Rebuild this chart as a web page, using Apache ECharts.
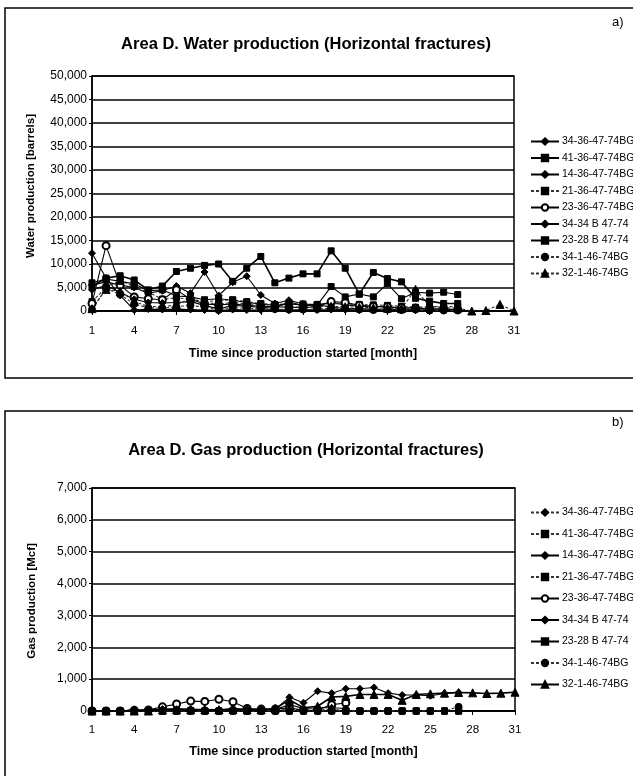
<!DOCTYPE html>
<html>
<head>
<meta charset="utf-8">
<script src="https://cdn.jsdelivr.net/npm/echarts@6/dist/echarts.min.js"></script>
<style>
  html, body { margin: 0; padding: 0; background: #fff; }
  #water { position: absolute; left: 0; top: 0; width: 633px; height: 390px; }
  #gas { position: absolute; left: 0; top: 390px; width: 633px; height: 386px; }
</style>
</head>
<body>
<div id="water"></div>
<div id="gas"></div>
<script>
// Month categories and axis ranges
const months = ['1','2','3','4','5','6','7','8','9','10','11','12','13','14','15','16',
  '17','18','19','20','21','22','23','24','25','26','27','28','29','30','31'];
const wellNames = ['34-36-47-74BG','41-36-47-74BG','14-36-47-74BG','21-36-47-74BG',
  '23-36-47-74BG','34-34 B 47-74','23-28 B 47-74','34-1-46-74BG','32-1-46-74BG'];
const waterTicks = [0, 50000, 5000];   // min, max, step
const gasTicks = [0, 7000, 1000];

// Monthly water production [barrels]
const water_34_36 = [12300,7000,3300,200,400,300,400,300,200,100,300,200,200,300,200,300,200,300,300,200,200,300,200,200,100,100,100];
const water_41_36 = [5200,7000,7500,6600,4500,5300,8400,9100,9700,10000,6300,9100,11600,6000,7000,7900,7900,12800,9100,3600,8200,6900,6200,2700,2100,1600,1600];
const water_14_36 = [5500,6200,5500,5000,3800,4300,5300,3800,8300,3300,6100,7400,3400,1600,2300,1500,1300,1800,1300,1000,900,900,500,800,300,200,200];
const water_21_36 = [2000,5000,6500,5200,4000,2500,2800,2500,2000,2200,2400,2000,1600,1400,1500,1500,1400,1600,1500,1400,1300,1200,1000,800,900,1000,900];
const water_23_36 = [1600,13900,5500,3000,2600,2400,4500,2500,1500,1300,1500,1200,1000,900,800,700,900,2000,1800,1200,1000,900,700,600,500,400,300];
const water_34_34B = [4500,5500,4000,2500,1800,1700,1800,2000,1200,400,1200,1000,800,600,2000,1000,1400,800,600,500,400,300,300,200,200,100,100];
const water_23_28B = [6000,6800,6300,5800,4300,4500,3200,3000,2400,2600,2300,1800,1500,1200,1500,1300,1200,5200,3000,3600,3000,5800,2600,4000,3800,4000,3500];
const water_34_1 = [300,4800,3500,1500,700,600,900,1200,800,200,700,600,500,400,300,300,400,600,500,300,200,300,200,300,100,100,100];
const water_32_1 = [500,4600,4200,2000,1000,900,1300,2700,1800,1500,1800,1500,1400,1200,1000,800,1000,1000,900,800,700,600,500,4600,1000,700,600,0,100,1400,0];

// Monthly gas production [Mcf]
const gas_34_36 = [0,0,0,50,0,20,0,30,50,20,0,0,0,0,80,30,20,50,20,0,0,0,0,0,0,0,0];
const gas_41_36 = [0,0,0,0,0,0,0,20,0,0,20,0,0,0,0,0,0,30,0,0,0,0,0,0,0,0,0];
const gas_14_36 = [0,0,0,40,30,60,80,60,50,40,60,40,50,60,430,260,620,560,700,700,740,560,500,500,480,550,580];
const gas_21_36 = [0,0,0,0,0,0,0,0,0,0,0,0,20,20,30,20,20,30,0,0,0,0,0,0,0,0,0];
const gas_23_36 = [0,0,0,20,30,130,220,310,300,370,290,80,60,60,100,20,30,200,250];
const gas_34_34B = [0,0,0,30,40,60,40,50,40,30,80,60,40,50,200,80,100,100,80];
const gas_23_28B = [0,0,0,0,0,0,0,0,0,0,0,0,0,0,0,0,0,0,0,0,0,0,0,0,0,0,0];
const gas_34_1 = [0,0,0,0,0,0,0,0,0,0,0,0,0,0,0,0,0,0,0,0,0,0,0,0,0,0,130];
const gas_32_1 = [0,0,0,0,0,30,40,40,40,40,50,40,40,80,350,100,150,440,460,520,520,520,335,520,540,560,580,570,550,560,590];

const FONT = '"Liberation Sans", Arial, sans-serif';

// Marker / line look for each well, in legend order
function wellStyles(dashedIdx, thickIdx) {
  const symbols = ['diamond','rect','diamond','rect','emptyCircle','diamond','rect','circle','triangle'];
  return symbols.map((s, i) => ({
    symbol: s,
    symbolSize: s === 'triangle' ? 8 : (s === 'rect' ? 6 : 7),
    lineType: dashedIdx.includes(i) ? [3, 2] : 'solid',
    lineWidth: thickIdx.includes(i) ? 1.6 : 1.1,
    color: dashedIdx.includes(i) ? '#333' : '#000'
  }));
}

function buildSeries(seriesData, styles) {
  return seriesData.map((d, i) => ({
    name: wellNames[i],
    type: 'line',
    data: d,
    symbol: styles[i].symbol,
    symbolSize: styles[i].symbolSize,
    showAllSymbol: true,
    lineStyle: { color: styles[i].color, width: styles[i].lineWidth, type: styles[i].lineType },
    itemStyle: { color: '#000', borderColor: '#000', borderWidth: 1 },
    emphasis: { disabled: true }
  }));
}

function buildOption(cfg) {
  return {
    animation: false,
    textStyle: { fontFamily: FONT, color: '#000' },
    title: [{
      text: cfg.title,
      left: 306, top: cfg.titleTop, textAlign: 'center', padding: 0,
      textStyle: { fontSize: 16.5, fontWeight: 'bold', color: '#000', fontFamily: FONT }
    }, {
      text: cfg.tag,
      left: 612, top: cfg.tagTop, padding: 0,
      textStyle: { fontSize: 13, fontWeight: 'normal', color: '#000', fontFamily: FONT }
    }],
    legend: {
      orient: 'vertical',
      left: 530, top: cfg.legendTop,
      itemWidth: 28, itemHeight: 8, itemGap: cfg.legendGap,
      padding: 0,
      selectedMode: false,
      textStyle: { fontSize: 10.5, color: '#000', fontFamily: FONT, padding: [0, 0, 0, -2] },
      data: wellNames
    },
    grid: {
      left: 92, top: cfg.gridTop, width: cfg.gridWidth, height: cfg.gridHeight,
      show: true, borderColor: '#000', borderWidth: 1.5, backgroundColor: '#fff'
    },
    xAxis: {
      type: 'category', data: months, boundaryGap: false,
      name: 'Time since production started [month]',
      nameLocation: 'middle', nameGap: cfg.xNameGap,
      nameTextStyle: { fontSize: 12.5, fontWeight: 'bold', color: '#000', fontFamily: FONT },
      axisLine: { lineStyle: { color: '#000', width: 1.5 } },
      axisTick: { show: true, interval: 2, length: 4, lineStyle: { color: '#000' } },
      axisLabel: { interval: 2, fontSize: 11.5, color: '#000', margin: cfg.xLabelMargin, fontFamily: FONT },
      splitLine: { show: false }
    },
    yAxis: {
      type: 'value', min: cfg.ticks[0], max: cfg.ticks[1], interval: cfg.ticks[2],
      axisLine: { show: true, lineStyle: { color: '#000', width: 1.5 } },
      axisTick: { show: true, length: 3, lineStyle: { color: '#000' } },
      axisLabel: {
        fontSize: 12, color: '#000', margin: 5, fontFamily: FONT,
        formatter: v => v.toLocaleString('en-US')
      },
      splitLine: { show: true, lineStyle: { color: '#000', width: 1.5 } }
    },
    graphic: [{
      type: 'rect', silent: true, z: -1,
      shape: { x: 5, y: cfg.boxTop, width: 700, height: cfg.boxHeight },
      style: { fill: 'none', stroke: '#000', lineWidth: 1.5 }
    }, {
      // vertical axis title
      type: 'text', silent: true,
      x: cfg.yNameX, y: cfg.yNameY, rotation: Math.PI / 2,
      style: {
        text: cfg.yName, align: 'center', verticalAlign: 'middle',
        font: 'bold 11.5px ' + FONT, fill: '#000'
      }
    }],
    series: cfg.series
  };
}

const waterChart = echarts.init(document.getElementById('water'), null, { renderer: 'canvas' });
waterChart.setOption(buildOption({
  title: 'Area D. Water production (Horizontal fractures)', titleTop: 36,
  tag: 'a)', tagTop: 16,
  legendTop: 136, legendGap: 5.5,
  gridTop: 76, gridWidth: 422, gridHeight: 235,
  xNameGap: 36, xLabelMargin: 14,
  yName: 'Water production [barrels]', yNameX: 31, yNameY: 186,
  ticks: waterTicks,
  boxTop: 8, boxHeight: 370,
  series: buildSeries(
    [water_34_36, water_41_36, water_14_36, water_21_36, water_23_36,
     water_34_34B, water_23_28B, water_34_1, water_32_1],
    wellStyles([3, 7, 8], [1]))
}));

const gasChart = echarts.init(document.getElementById('gas'), null, { renderer: 'canvas' });
gasChart.setOption(buildOption({
  title: 'Area D. Gas production (Horizontal fractures)', titleTop: 52,
  tag: 'b)', tagTop: 26,
  legendTop: 117, legendGap: 10.5,
  gridTop: 98, gridWidth: 423, gridHeight: 223,
  xNameGap: 34, xLabelMargin: 13,
  yName: 'Gas production [Mcf]', yNameX: 32, yNameY: 211,
  ticks: gasTicks,
  boxTop: 21, boxHeight: 500,
  series: buildSeries(
    [gas_34_36, gas_41_36, gas_14_36, gas_21_36, gas_23_36,
     gas_34_34B, gas_23_28B, gas_34_1, gas_32_1],
    wellStyles([0, 1, 3, 7], [8]))
}));
</script>
</body>
</html>
